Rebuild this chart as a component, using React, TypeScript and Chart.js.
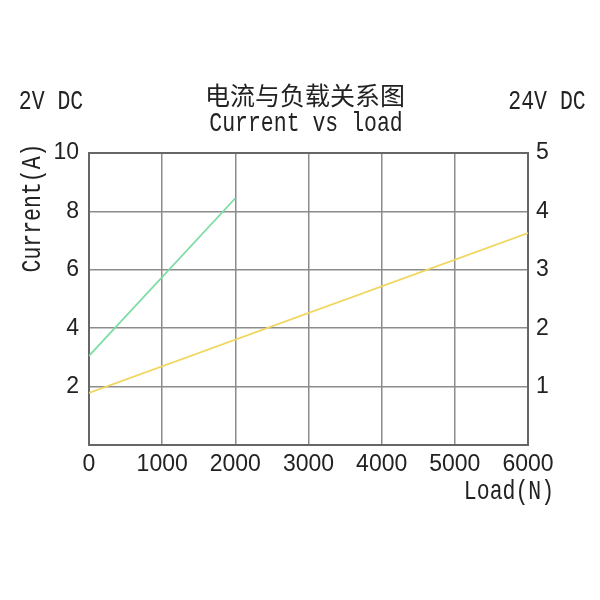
import React, { useEffect, useRef } from "react";
import { Chart, registerables } from "chart.js";

Chart.register(...registerables);

const load2V = [0, 2000];
const current2V = [3.05, 8.45];
const load24V = [0, 6000];
const current24V = [0.89, 3.63];

const titleCN = "电流与负载关系图";
const titleEN = "Current vs load";
const leftLabel = "2V DC";
const rightLabel = "24V DC";
const yTitle = "Current(A)";
const xTitle = "Load(N)";

const TEXT = "#222";
const GRID = "#8c8c8c";
const FRAME = "#666";

function drawText(ctx: CanvasRenderingContext2D, text: string, x: number, y: number, font: string, rot = 0, sy = 1.3) {
  ctx.save();
  ctx.translate(x, y);
  ctx.rotate(rot);
  ctx.scale(1, sy);
  ctx.font = font;
  ctx.fillStyle = TEXT;
  ctx.textAlign = "center";
  ctx.textBaseline = "middle";
  ctx.fillText(text, 0, 0);
  ctx.restore();
}

const textPlugin = {
  id: "texts",
  afterDraw(chart: any) {
    const ctx = chart.ctx as CanvasRenderingContext2D;
    const mono = "21.5px 'Liberation Mono', 'DejaVu Sans Mono', monospace";
    drawText(ctx, titleCN, 305, 95, "25px 'Noto Sans CJK SC'", 0, 1);
    drawText(ctx, titleEN, 306, 124, mono);
    drawText(ctx, leftLabel, 51, 102, mono);
    drawText(ctx, rightLabel, 547, 102, mono);
    drawText(ctx, yTitle, 33, 208, mono, -Math.PI / 2);
    drawText(ctx, xTitle, 509, 492, mono);
  },
};

const tickFont = { family: "'Liberation Sans', Arial", size: 23 };

export default function App() {
  const ref = useRef<HTMLCanvasElement>(null);
  useEffect(() => {
    if (!ref.current) return;
    const chart = new Chart(ref.current, {
      type: "line",
      data: {
        datasets: [
          {
            label: leftLabel,
            data: load2V.map((x, i) => ({ x, y: current2V[i] })),
            borderColor: "#7ddca6",
            borderWidth: 1.8,
            pointRadius: 0,
            yAxisID: "y",
          },
          {
            label: rightLabel,
            data: load24V.map((x, i) => ({ x, y: current24V[i] })),
            borderColor: "#f0d65e",
            borderWidth: 1.8,
            pointRadius: 0,
            yAxisID: "y2",
          },
        ],
      },
      options: {
        animation: false,
        responsive: true,
        maintainAspectRatio: false,
        layout: { padding: { top: 153, left: 0, right: 0, bottom: 0 } },
        plugins: { legend: { display: false }, tooltip: { enabled: false }, title: { display: false } },
        scales: {
          x: {
            type: "linear",
            min: 0,
            max: 6000,
            afterFit: (s: any) => { s.height = 155; },
            ticks: { stepSize: 1000, color: TEXT, padding: 6, maxRotation: 0, font: tickFont, callback: (v: any) => String(v) },
            grid: { color: GRID, lineWidth: 1.5, drawTicks: false },
            border: { color: FRAME, width: 2 },
          },
          y: {
            position: "left",
            min: 0,
            max: 10,
            afterFit: (s: any) => { s.width = 89; },
            ticks: { stepSize: 2, color: TEXT, padding: 10, font: tickFont, callback: (v: any) => (v === 0 ? "" : String(v)) },
            grid: { color: (c: any) => (c.tick && c.tick.value === 10 ? FRAME : GRID), lineWidth: (c: any) => (c.tick && c.tick.value === 10 ? 2 : 1.5), drawTicks: false },
            border: { color: FRAME, width: 2 },
          },
          y2: {
            position: "right",
            min: 0,
            max: 5,
            afterFit: (s: any) => { s.width = 72; },
            ticks: { stepSize: 1, color: TEXT, padding: 8, font: tickFont, callback: (v: any) => (v === 0 ? "" : String(v)) },
            grid: { drawOnChartArea: false, drawTicks: false },
            border: { color: FRAME, width: 2 },
          },
        },
      },
      plugins: [textPlugin],
    } as any);
    return () => chart.destroy();
  }, []);
  return (
    <div style={{ position: "fixed", left: 0, top: 0, width: 600, height: 600, background: "#fff" }}>
      <canvas ref={ref} />
    </div>
  );
}
